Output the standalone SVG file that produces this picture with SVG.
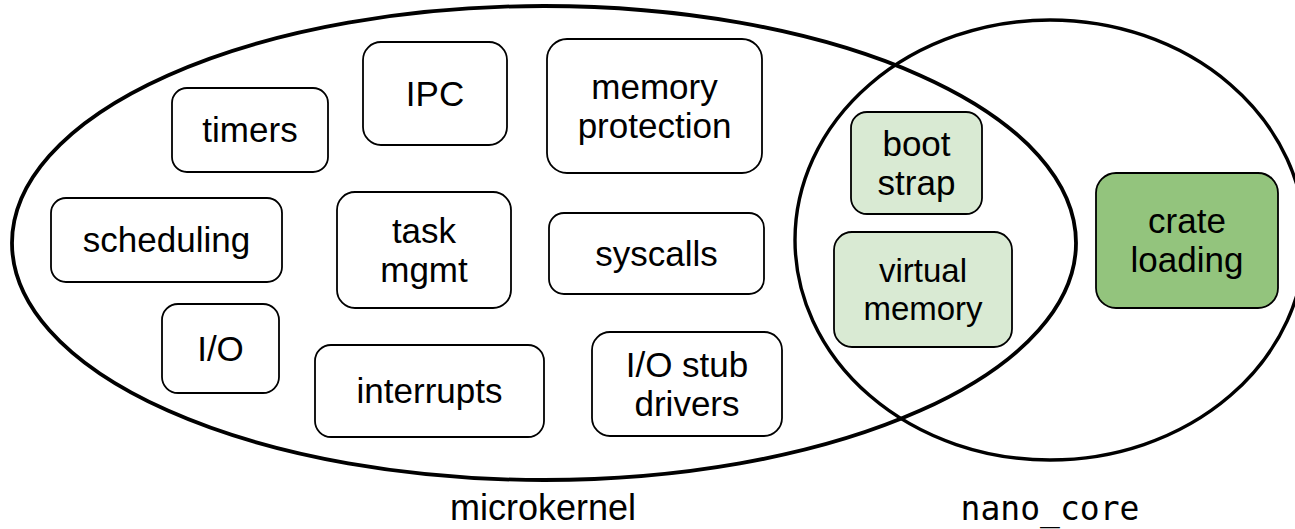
<svg xmlns="http://www.w3.org/2000/svg" width="1295" height="529" viewBox="0 0 1295 529">
  <style>
    .set { fill: none; stroke: #000; }
    .box { fill: #fff; stroke: #000; stroke-width: 1.8; }
    .lite { fill: #d9ead3; }
    .dark { fill: #93c47d; }
    .t { font-family: "Liberation Sans", Arial, sans-serif; font-size: 35px; fill: #000; text-anchor: middle; }
    .sm { font-size: 33px; }
    .lbl { font-family: "Liberation Sans", Arial, sans-serif; font-size: 36px; fill: #000; text-anchor: middle; }
    .mono { font-family: "DejaVu Sans Mono", "Liberation Mono", monospace; font-size: 33px; fill: #000; text-anchor: middle; }
  </style>

  <rect width="1295" height="529" fill="#fff"/>

  <!-- the two overlapping sets -->
  <g id="sets">
    <ellipse id="microkernel-set" class="set" cx="544" cy="243" rx="532" ry="237" stroke-width="3.8"/>
    <ellipse id="nano-core-set" class="set" cx="1050" cy="240" rx="255" ry="220" stroke-width="3.4"/>
  </g>

  <g id="connectors"/>

  <!-- microkernel components -->
  <g id="timers">
    <rect class="box" x="172" y="88" width="156" height="84" rx="15"/>
    <text class="t" x="250" y="142">timers</text>
  </g>
  <g id="ipc">
    <rect class="box" x="363" y="42" width="144" height="103" rx="18"/>
    <text class="t" x="435" y="106">IPC</text>
  </g>
  <g id="memory-protection">
    <rect class="box" x="547" y="39" width="215" height="134" rx="20"/>
    <text class="t" x="654.5" y="99">memory</text>
    <text class="t" x="654.5" y="138">protection</text>
  </g>
  <g id="scheduling">
    <rect class="box" x="51" y="198" width="231" height="84" rx="15"/>
    <text class="t" x="166.5" y="252">scheduling</text>
  </g>
  <g id="task-mgmt">
    <rect class="box" x="337" y="192" width="174" height="116" rx="18"/>
    <text class="t" x="424" y="243">task</text>
    <text class="t" x="424" y="282">mgmt</text>
  </g>
  <g id="syscalls">
    <rect class="box" x="549" y="213" width="215" height="81" rx="15"/>
    <text class="t" x="656.5" y="266">syscalls</text>
  </g>
  <g id="io">
    <rect class="box" x="162" y="304" width="117" height="89" rx="16"/>
    <text class="t" x="220.5" y="361">I/O</text>
  </g>
  <g id="interrupts">
    <rect class="box" x="315" y="345" width="229" height="92" rx="16"/>
    <text class="t" x="429.5" y="403">interrupts</text>
  </g>
  <g id="io-stub-drivers">
    <rect class="box" x="592" y="332" width="190" height="104" rx="18"/>
    <text class="t" x="687" y="377">I/O stub</text>
    <text class="t" x="687" y="416">drivers</text>
  </g>

  <!-- shared and nano_core components -->
  <g id="boot-strap">
    <rect class="box lite" x="851" y="112" width="131" height="102" rx="16"/>
    <text class="t" x="916.5" y="156">boot</text>
    <text class="t" x="916.5" y="195">strap</text>
  </g>
  <g id="virtual-memory">
    <rect class="box lite" x="834" y="232" width="178" height="115" rx="18"/>
    <text class="t sm" x="923" y="282">virtual</text>
    <text class="t sm" x="923" y="320">memory</text>
  </g>
  <g id="crate-loading">
    <rect class="box dark" x="1096" y="173" width="182" height="135" rx="20"/>
    <text class="t" x="1187" y="233">crate</text>
    <text class="t" x="1187" y="272">loading</text>
  </g>

  <!-- set labels -->
  <g id="labels">
    <text class="lbl" x="543" y="520">microkernel</text>
    <text class="mono" x="1050" y="520">nano_core</text>
  </g>
</svg>
